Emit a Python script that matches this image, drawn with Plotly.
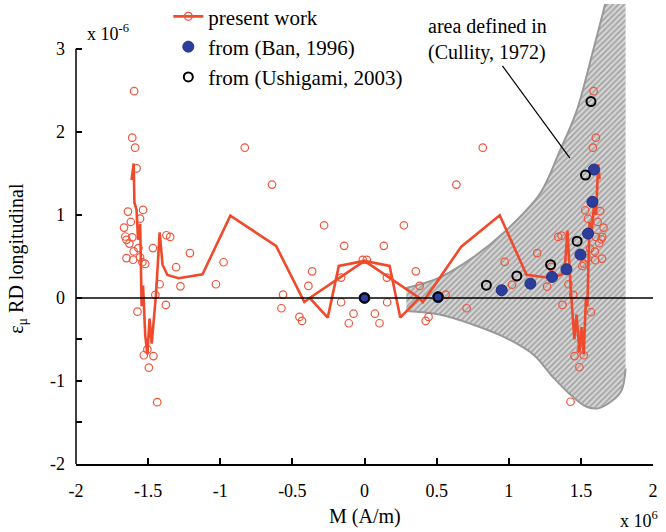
import plotly.graph_objects as go

# ---------------- data ----------------
# present work: measured points (M in 1e6 A/m, strain in 1e-6)
pw_x = [-1.597, -1.61, -1.59, -1.58, -1.64, -1.535, -1.556, -1.62, -1.667,
        -1.658, -1.65, -1.61, -1.63, -1.567, -1.60, -1.467, -1.65, -1.604,
        -1.556, -1.54, -1.52, -1.373, -1.347, -1.21, -1.306, -1.42, -1.276,
        -1.45, -1.377, -1.574, -1.505, -1.53, -1.463, -1.495, -1.437,
        -1.03, -0.977, -0.83,
        -0.641, -0.28, -0.141, -0.363, -0.162, -0.389, -0.012, -0.565, -0.576,
        -0.162, -0.076, -0.109, -0.451, -0.433,
        0.016, 0.637, 0.273, 0.134, 0.356, 0.155, 0.382, 0.5625, 0.708,
        0.157, 0.072, 0.104, 0.444, 0.424,
        0.82, 0.972, 1.023, 1.197, 1.266, 1.294, 1.343, 1.366, 1.414, 1.447,
        1.373, 1.456, 1.52, 1.49, 1.428, 1.57, 1.53, 1.634, 1.549, 1.616,
        1.657, 1.604, 1.648, 1.642, 1.627, 1.5625, 1.597, 1.646, 1.60, 1.546,
        1.52, 1.51, 1.588, 1.604, 1.583, 1.50]
pw_y = [2.49, 1.93, 1.81, 1.56, 1.04, 1.06, 0.955, 0.915, 0.847,
        0.74, 0.70, 0.73, 0.655, 0.60, 0.56, 0.60, 0.48, 0.46,
        0.49, 0.43, 0.41, 0.755, 0.735, 0.54, 0.37, 0.165, 0.14,
        0.036, -0.084, -0.165, -0.62, -0.69, -0.70, -0.84, -1.255,
        0.165, 0.43, 1.81,
        1.365, 0.875, 0.627, 0.32, 0.245, 0.145, 0.458, 0.04, -0.124,
        -0.052, -0.19, -0.305, -0.229, -0.277,
        0.458, 1.365, 0.875, 0.627, 0.32, 0.245, 0.145, 0.04, -0.124,
        -0.052, -0.19, -0.305, -0.229, -0.277,
        1.81, 0.434, 0.16, 0.54, 0.136, 0.374, 0.735, 0.75, 0.165, 0.036,
        -0.084, -0.70, -0.69, -0.835, -1.25, -0.172, 1.056, 1.045, 0.955, 0.916,
        0.847, 0.735, 0.735, 0.707, 0.66, 0.594, 0.558, 0.474, 0.454, 0.478,
        0.413, 0.385, 2.49, 1.93, 1.81, -0.62]

# present work: connecting curve (None separates the two passes)
pl_x = [-1.615, -1.60, -1.595, -1.58, -1.57, -1.555, -1.545, -1.535, -1.52,
        -1.505, -1.49, -1.475, -1.445, -1.42, -1.40, -1.366, -1.289, -1.123,
        -0.93, -0.613, -0.417, -0.38, 0.0, 0.38, 0.405, 0.671, 0.9375, 1.123,
        1.289, 1.366, 1.39, 1.407, 1.43, 1.455, 1.47, 1.49, 1.505, 1.52,
        1.535, 1.545, 1.56, 1.575, 1.59, 1.605, 1.62, 1.63,
        None,
        -0.38, -0.255, -0.178, 0.0, 0.174, 0.248, 0.38]
pl_y = [1.42, 1.62, 1.15, 1.06, 0.70, 0.89, -0.10, 0.15, -0.45,
        -0.68, -0.25, -0.55, 0.05, 0.79, 0.40, 0.277, 0.237, 0.285,
        0.99, 0.627, -0.05, 0.0, 0.446, 0.0, -0.05, 0.618, 0.996, 0.28,
        0.24, 0.28, 0.40, 0.81, 0.10, -0.50, -0.20, -0.65, -0.35, -0.68,
        0.0, -0.10, 0.91, 0.80, 1.10, 1.00, 1.61, 1.43,
        None,
        0.0, -0.237, 0.385, 0.446, 0.385, -0.237, 0.0]

# from (Ban, 1996)
ban_x = [0.0, 0.51, 0.951, 1.15, 1.30, 1.40, 1.497, 1.55, 1.58, 1.59]
ban_y = [0.0, 0.01, 0.093, 0.172, 0.253, 0.345, 0.522, 0.775, 1.157, 1.546]

# from (Ushigami, 2003)
ush_x = [0.0, 0.51, 0.845, 1.056, 1.29, 1.474, 1.532, 1.57]
ush_y = [0.0, 0.01, 0.153, 0.265, 0.40, 0.683, 1.48, 2.365]

# area defined in (Cullity, 1972): upper and lower boundaries
cu_up_x = [0.29, 0.52, 0.75, 0.98, 1.215, 1.354, 1.47, 1.585, 1.692]
cu_up_y = [0.12, 0.245, 0.485, 0.81, 1.25, 1.77, 2.25, 2.98, 3.70]
cu_lo_x = [0.29, 0.52, 0.75, 0.98, 1.17, 1.31, 1.45, 1.54, 1.62, 1.70, 1.78, 1.81]
cu_lo_y = [-0.157, -0.20, -0.32, -0.48, -0.68, -0.96, -1.20, -1.31, -1.33, -1.26, -1.12, -0.85]
cu_right_x = 1.81
cu_top_y = 3.70

x_ticks = [-2, -1.5, -1, -0.5, 0, 0.5, 1, 1.5, 2]
x_tick_text = ["-2", "-1.5", "-1", "-0.5", "0", "0.5", "1", "1.5", "2"]
y_ticks = [-2, -1, 0, 1, 2, 3]
y_tick_text = ["-2", "-1", "0", "1", "2", "3"]
y_minor_ticks = [-1.5, -0.5]

# ---------------- styles ----------------
RED = "#f04a2c"
RED_PT = "#f0563c"
BLUE = "#2d3d9c"
FONT = "Liberation Serif"

fig = go.Figure()

# hatched Cullity area
poly_x = cu_up_x + [cu_right_x] + cu_lo_x[::-1]
poly_y = cu_up_y + [cu_top_y] + cu_lo_y[::-1]
fig.add_trace(go.Scatter(
    x=poly_x, y=poly_y, mode="lines", fill="toself",
    line=dict(width=0, color="rgba(0,0,0,0)"),
    fillcolor="#c8c8c8",
    fillpattern=dict(shape="/", fgcolor="#707070", bgcolor="#d6d6d6",
                     size=4, solidity=0.45),
    hoverinfo="skip", showlegend=False))
fig.add_trace(go.Scatter(x=cu_up_x, y=cu_up_y, mode="lines",
                         line=dict(color="#999999", width=2, shape="spline"),
                         hoverinfo="skip", showlegend=False))
fig.add_trace(go.Scatter(x=cu_lo_x, y=cu_lo_y, mode="lines",
                         line=dict(color="#999999", width=2, shape="spline"),
                         hoverinfo="skip", showlegend=False))

# present work
fig.add_trace(go.Scatter(
    x=pw_x, y=pw_y, mode="markers", name="present work",
    marker=dict(symbol="circle-open", size=7.5, color=RED_PT, line=dict(width=1.2, color=RED_PT)),
    legendgroup="pw", showlegend=False))
fig.add_trace(go.Scatter(
    x=pl_x, y=pl_y, mode="lines", name="present work",
    line=dict(color=RED, width=2.6), connectgaps=False,
    legendgroup="pw", showlegend=False))
# legend entry for present work (marker + line)
fig.add_trace(go.Scatter(
    x=[None], y=[None], mode="lines+markers", name="present work",
    line=dict(color=RED, width=2.6),
    marker=dict(symbol="circle-open", size=8, color=RED_PT, line=dict(width=1.2, color=RED_PT)),
    legendgroup="pw"))

# zero line
fig.add_trace(go.Scatter(x=[-2, 2], y=[0, 0], mode="lines",
                         line=dict(color="black", width=1.5),
                         hoverinfo="skip", showlegend=False))

fig.add_trace(go.Scatter(
    x=ban_x, y=ban_y, mode="markers", name="from (Ban, 1996)",
    marker=dict(symbol="circle", size=11, color=BLUE, line=dict(width=1, color="#22307a"))))
fig.add_trace(go.Scatter(
    x=ush_x, y=ush_y, mode="markers", name="from (Ushigami, 2003)",
    marker=dict(symbol="circle-open", size=9, color="black", line=dict(width=2, color="black"))))

fig.update_layout(
    width=666, height=532,
    margin=dict(l=76, r=13, t=4, b=68, autoexpand=False),
    paper_bgcolor="white", plot_bgcolor="white",
    font=dict(family=FONT, size=18, color="black"),
    showlegend=True,
    legend=dict(x=0.16, y=1.017, xanchor="left", yanchor="top",
                bgcolor="rgba(0,0,0,0)", font=dict(size=21, family=FONT),
                itemwidth=30, tracegroupgap=0),
    xaxis=dict(range=[-2, 2], tickvals=x_ticks, ticktext=x_tick_text,
               ticks="inside", ticklen=6, tickwidth=1.5, tickcolor="black",
               showline=True, linecolor="black", linewidth=1.5,
               showgrid=False, zeroline=False, ticklabelstandoff=10,
               automargin=False, tickfont=dict(size=18, family=FONT)),
    yaxis=dict(range=[-2, 3.54], tickvals=y_ticks, ticktext=y_tick_text,
               ticks="inside", ticklen=6, tickwidth=1.5, tickcolor="black",
               minor=dict(tickvals=y_minor_ticks, ticks="inside", ticklen=6,
                          tickwidth=1.5, tickcolor="black", showgrid=False),
               showline=False, showgrid=False, zeroline=False, automargin=False,
               ticklabelstandoff=10, tickfont=dict(size=18, family=FONT)),
)

# y axis line that stops at 3
fig.add_shape(type="line", xref="paper", yref="y", x0=0, x1=0, y0=-2, y1=3,
              line=dict(color="black", width=1.5), layer="above")
# pointer line to the Cullity area
fig.add_shape(type="line", xref="x", yref="y", x0=0.956, y0=2.795, x1=1.424, y1=1.683,
              line=dict(color="black", width=1.2), layer="above")

fig.add_annotation(xref="paper", yref="paper", x=0.0156, y=0.939, xanchor="left", yanchor="middle",
                   text="x 10<sup>-6</sup>", showarrow=False, font=dict(size=18, family=FONT))
fig.add_annotation(xref="paper", yref="paper", x=0.94, y=-0.12, xanchor="left", yanchor="middle",
                   text="x 10<sup>6</sup>", showarrow=False, font=dict(size=18, family=FONT))
fig.add_annotation(xref="paper", yref="paper", x=0.501, y=-0.115, xanchor="center", yanchor="middle",
                   text="M (A/m)", showarrow=False, font=dict(size=20, family=FONT))
fig.add_annotation(xref="paper", yref="paper", x=-0.1006, y=0.448, xanchor="center", yanchor="middle",
                   text="ε<sub>μ</sub> RD longitudinal", textangle=-90, showarrow=False,
                   font=dict(size=20, family=FONT))
fig.add_annotation(xref="paper", yref="paper", x=0.607, y=0.98, xanchor="left", yanchor="top",
                   text="area defined in<br>(Cullity, 1972)", align="left", showarrow=False,
                   font=dict(size=20, family=FONT))

fig.write_html("out.html", config={"displayModeBar": False},
               post_script="document.body.style.margin='0';document.body.style.overflow='hidden';")
